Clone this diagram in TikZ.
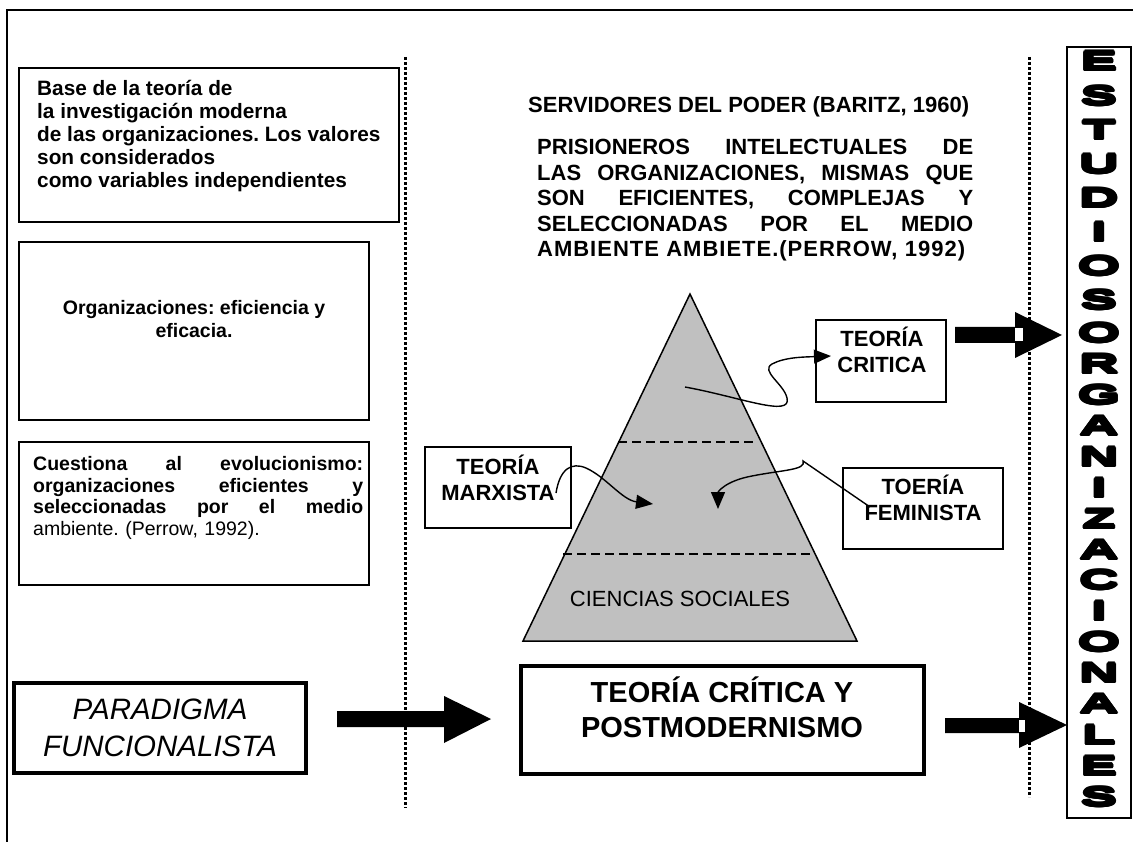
\documentclass[tikz,border=0pt]{standalone}
\usepackage{fontspec}
\setmainfont{Liberation Sans}
\newfontfamily\heavyfont{Liberation Sans Bold}[FakeStretch=2.0]
\usetikzlibrary{arrows.meta}
\definecolor{tri}{HTML}{C0C0C0}
\frenchspacing
\newcommand\fatglyph[1]{\leavevmode
  \rlap{\kern-1.3pt#1}\rlap{\kern1.3pt#1}%
  \rlap{\raisebox{1.3pt}{#1}}\rlap{\raisebox{-1.3pt}{#1}}%
  \rlap{\kern-0.92pt\raisebox{0.92pt}{#1}}\rlap{\kern0.92pt\raisebox{0.92pt}{#1}}%
  \rlap{\kern-0.92pt\raisebox{-0.92pt}{#1}}\rlap{\kern0.92pt\raisebox{-0.92pt}{#1}}%
  #1}
\begin{document}
\begin{tikzpicture}[x=1pt,y=-1pt,
  box/.style={draw, line width=1.8pt, inner sep=0pt},
  thickbox/.style={draw, line width=4.5pt, inner sep=0pt},
  dotline/.style={line width=3pt, dash pattern=on 3pt off 2pt},
  smalltext/.style={font=\fontsize{19.5}{23}\selectfont\bfseries, inner sep=0pt},
  midtext/.style={font=\fontsize{22}{25.5}\selectfont\bfseries, inner sep=0pt},
  curvy/.style={line width=1.4pt, -{Triangle[length=17pt,width=14pt]}},
  letter/.style={font=\fontsize{27}{27}\selectfont\heavyfont, inner sep=0pt},
  dashsep/.style={line width=1.3pt, dash pattern=on 9pt off 5pt},
]
\useasboundingbox (0,0) rectangle (1133,842);

% frame
\draw[line width=1.5pt] (7,842) -- (7,10) -- (1133,10);

% dotted separators
\draw[dotline] (405,57) -- (405,808);
\draw[dotline] (1029,57) -- (1029,797);

% left column boxes
\node[box, minimum width=380pt, minimum height=154pt] (b1) at (209,145) {};
\node[font=\fontsize{20.8}{23}\selectfont\bfseries, inner sep=0pt, anchor=west, align=left] (t1) at (37,136)
  {Base de la teoría de\\la investigación moderna\\de las organizaciones. Los valores\\son considerados\\como variables independientes};

\node[box, minimum width=350pt, minimum height=178pt] (b2) at (194,331) {};
\node[smalltext, align=center] (t2) at (194,319) {Organizaciones: eficiencia y\\eficacia.};

\node[box, minimum width=350pt, minimum height=143pt] (b3) at (194,513.5) {};
\node[font=\fontsize{19.5}{21.7}\selectfont, inner sep=0pt, anchor=north west, text width=330pt, align=left] (t3) at (33,456)
  {\textbf{Cuestiona\hfill al\hfill evolucionismo:}\\
   \textbf{organizaciones\hfill eficientes\hfill y}\\
   \textbf{seleccionadas\hfill por\hfill el\hfill medio}\\
   ambiente. (Perrow, 1992).};

% top text
\node[midtext, anchor=base west] (serv) at (528,113) {SERVIDORES DEL PODER (BARITZ, 1960)};
\node[midtext, anchor=north west, text width=436pt, align=left] (pris) at (537,139)
  {PRISIONEROS\hfill INTELECTUALES\hfill DE\\
   LAS\hfill ORGANIZACIONES,\hfill MISMAS\hfill QUE\\
   SON\hfill EFICIENTES,\hfill COMPLEJAS\hfill Y\\
   SELECCIONADAS\hfill POR\hfill EL\hfill MEDIO\\
   {\addfontfeatures{LetterSpace=4.5}AMBIENTE AMBIETE.(PERROW, 1992)}};

% pyramid
\filldraw[fill=tri, line width=1.5pt, line join=miter] (690,294) -- (857,641) -- (523,641) -- cycle;
\draw[dashsep] (618,442) -- (757,442);
\draw[dashsep] (563,554) -- (811,554);
\node[font=\fontsize{22}{25}\selectfont, inner sep=0pt] (cs) at (680,599) {CIENCIAS SOCIALES};

% theory boxes
\node[box, fill=white, minimum width=130pt, minimum height=82pt] (crit) at (881,361) {};
\node[midtext, align=center] (critT) at (882,350) {TEORÍA\\CRITICA};
\node[box, fill=white, minimum width=160pt, minimum height=81pt] (fem) at (923,508.5) {};
\node[midtext, align=center] (femT) at (923,498) {TOERÍA\\FEMINISTA};
\node[box, fill=white, minimum width=146pt, minimum height=81pt] (marx) at (498,487.5) {};
\node[midtext, align=center] (marxT) at (498,478) {TEORÍA\\MARXISTA};

% curvy arrows
\coordinate (critS) at (685,387);
\coordinate (critE) at (831,356);
\draw[curvy] (critS) .. controls (740,397) and (792,418) .. (787,398)
   .. controls (784,384) and (760,371) .. (772,364)
   .. controls (785,357) and (805,357) .. (critE);
\coordinate (marxS) at (556,493);
\coordinate (marxE) at (653,504);
\draw[curvy] (marxS) .. controls (560,468) and (572,462) .. (586,468)
   .. controls (606,477) and (622,500) .. (marxE);
\coordinate (femS) at (870,507);
\coordinate (femK) at (803,461);
\coordinate (femE) at (718,509);
\draw[curvy] (femS) -- (femK) .. controls (807,470) and (782,470) .. (752,476)
   .. controls (725,481) and (718,492) .. (femE);

% bottom boxes
\node[thickbox, minimum width=292pt, minimum height=90pt, align=center,
      font=\fontsize{29.5}{37}\selectfont\itshape] (para) at (160,728) {PARADIGMA\\FUNCIONALISTA};
\node[thickbox, minimum width=403pt, minimum height=108pt] (tc) at (722.5,720) {};
\node[font=\fontsize{29}{35}\selectfont\bfseries, inner sep=0pt, align=center] (tcT) at (722,707)
  {TEORÍA CRÍTICA Y\\POSTMODERNISMO};

% block arrows
\fill (337,711) -- (444,711) -- (444,696) -- (491,719) -- (444,743) -- (444,727) -- (337,727) -- cycle;
\fill (955,327) -- (1015,327) -- (1015,312) -- (1062,335) -- (1015,358) -- (1015,343) -- (955,343) -- cycle;
\fill[white] (1015,328.5) rectangle (1023,341.5);
\fill (945,718) -- (1019,718) -- (1019,702) -- (1067,725) -- (1019,748) -- (1019,733) -- (945,733) -- cycle;
\fill[white] (1019,719.5) rectangle (1025,731.5);

% vertical title
\node[draw, line width=2pt, minimum width=64pt, minimum height=771pt, inner sep=0pt] (col) at (1099,432.5) {};
\foreach \l/\yy [count=\i] in {E/61,S/96,T/130,U/164,D/198,I/232,O/266,S/300,
   O/333,R/364,G/395,A/426,N/457,I/488,Z/519,A/550,C/580,I/611,O/642,N/673,A/704,L/735,E/766,S/797}
  \node[letter] (L\i) at (1099,\yy) {\fatglyph{\l}};
\end{tikzpicture}
\end{document}
